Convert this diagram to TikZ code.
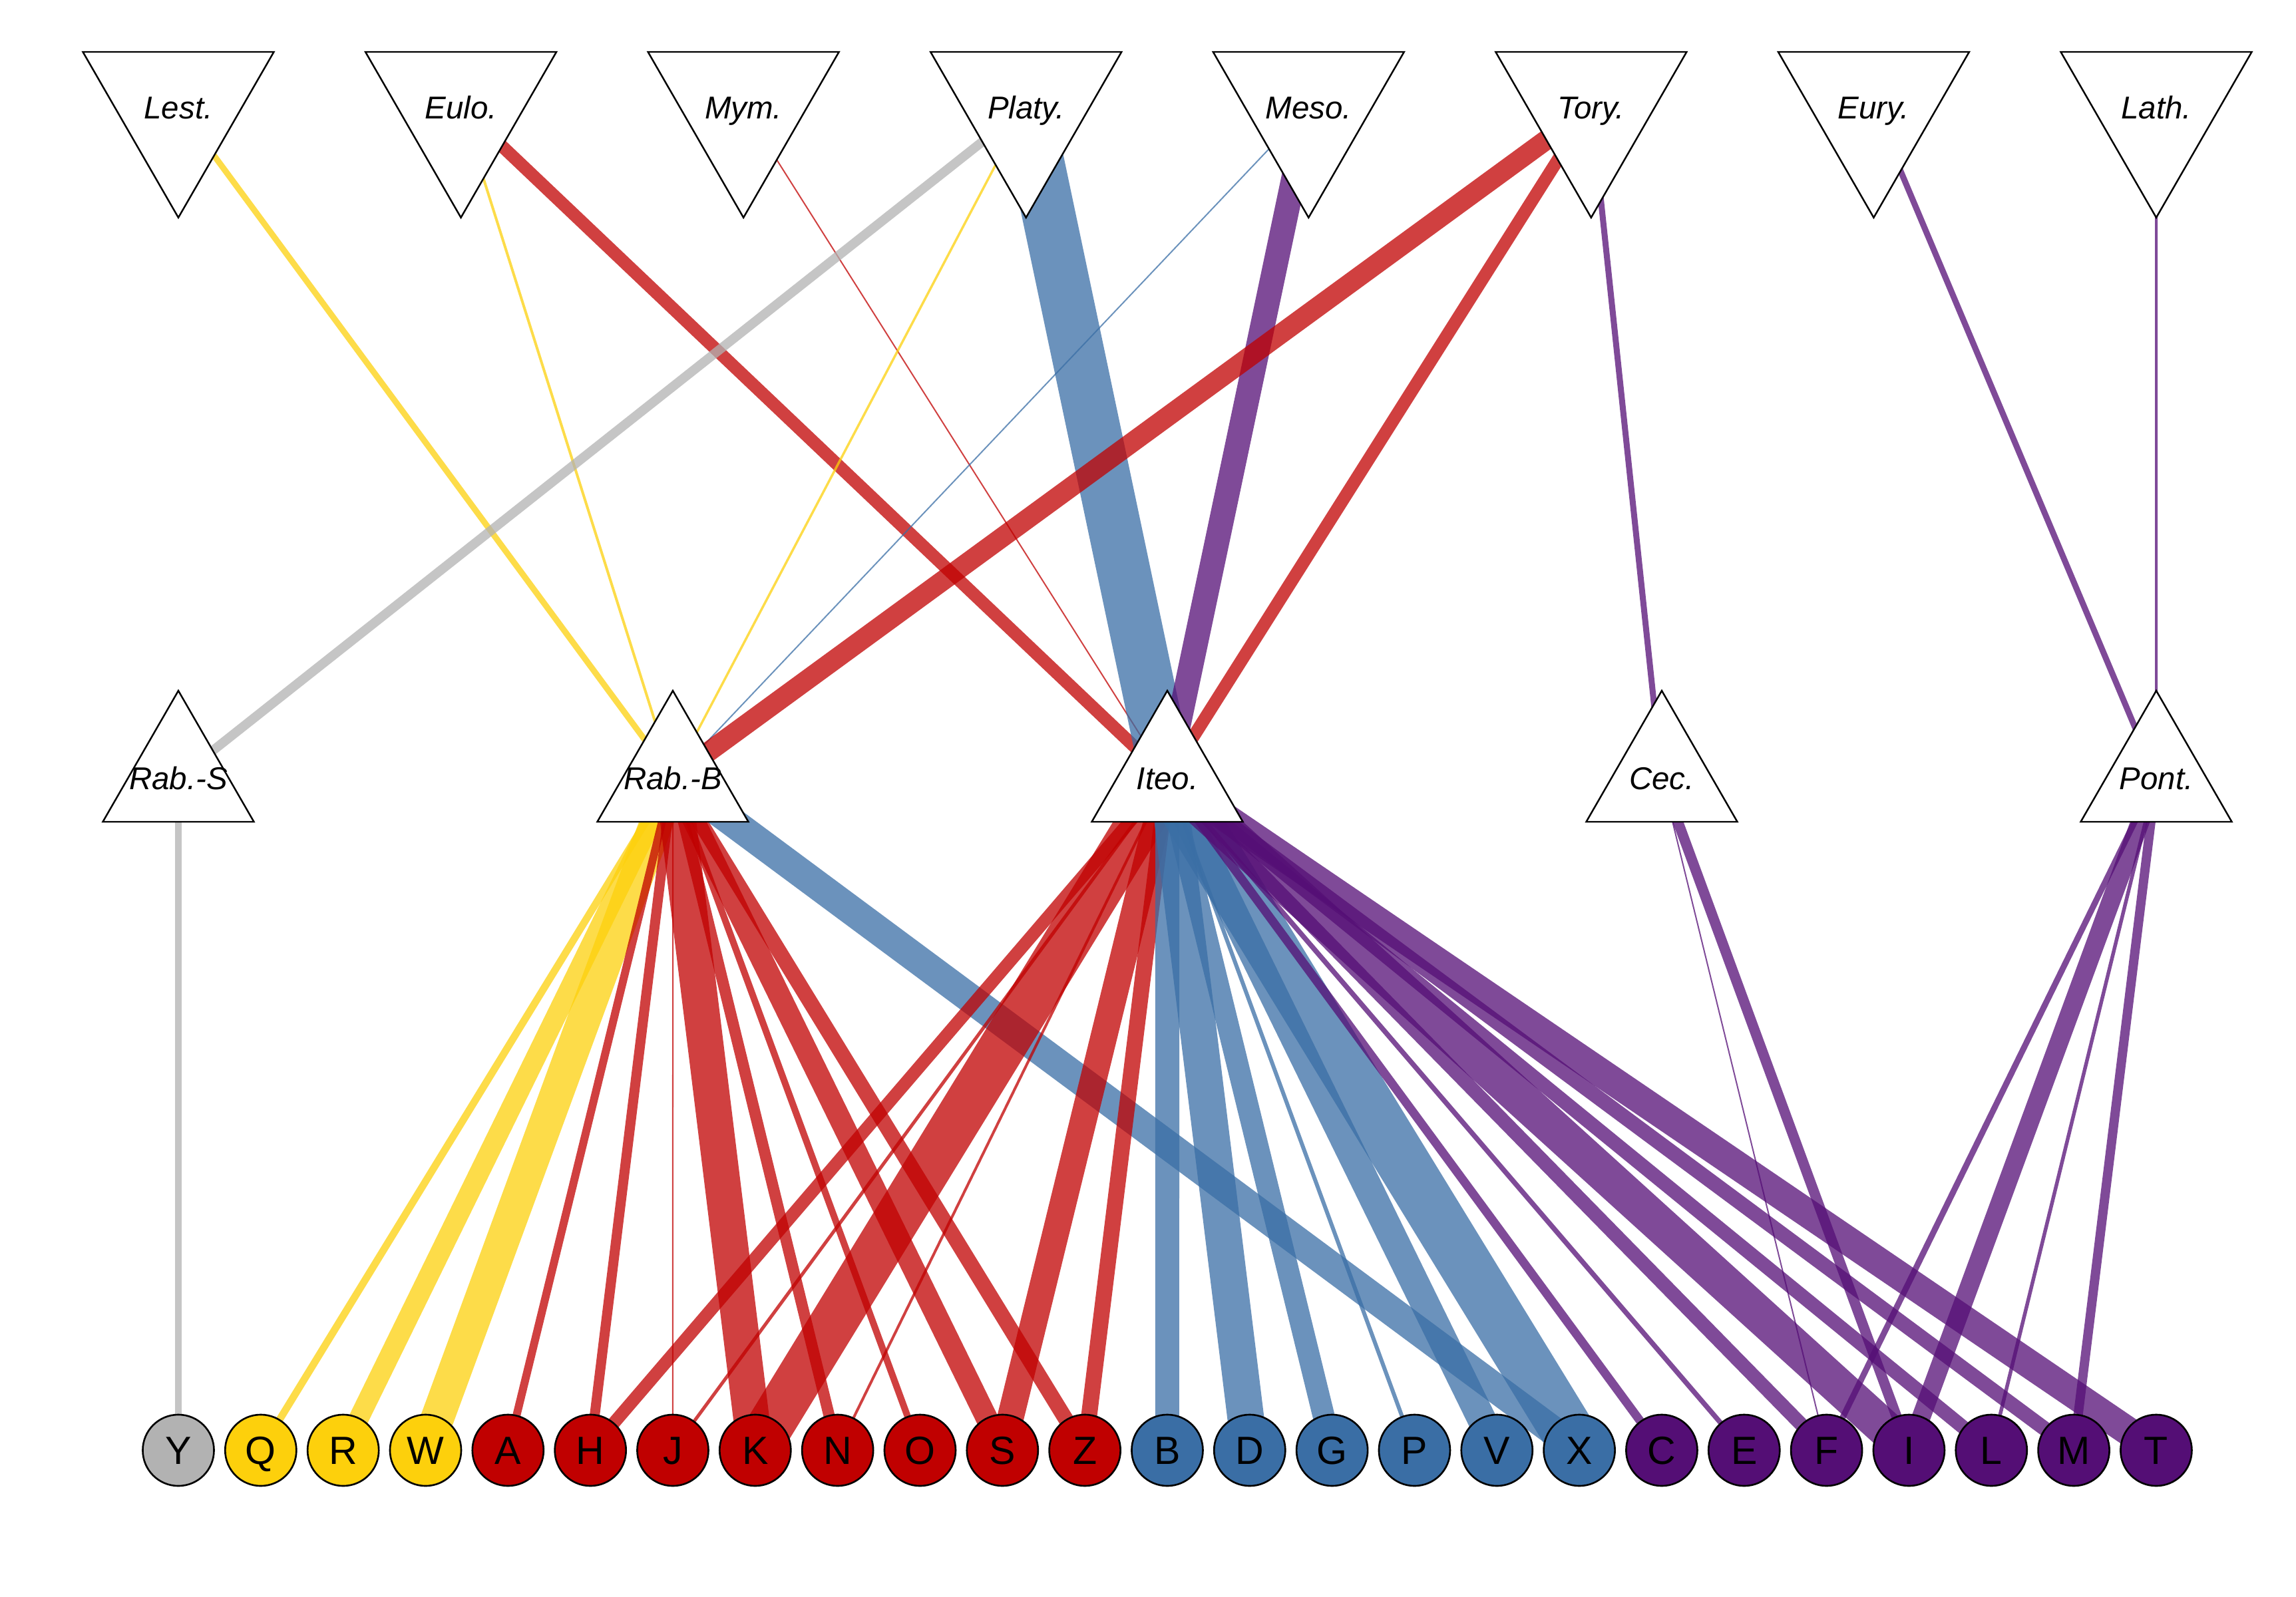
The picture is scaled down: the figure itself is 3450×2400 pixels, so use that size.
\documentclass[tikz,border=0pt]{standalone}
\usepackage{fontspec}
\setmainfont{Liberation Sans}
\pgfdeclarelayer{bg}
\pgfsetlayers{bg,main}
\definecolor{cgray}{RGB}{178,178,178}
\definecolor{cyel}{RGB}{253,208,12}
\definecolor{cred}{RGB}{192,0,0}
\definecolor{cblue}{RGB}{58,110,165}
\definecolor{cpur}{RGB}{84,14,117}
\tikzset{
  ew/.style={line width=#1*0.2845pt},
  eg/.style={draw=cgray, draw opacity=0.75},
  ey/.style={draw=cyel, draw opacity=0.75},
  er/.style={draw=cred, draw opacity=0.75},
  eb/.style={draw=cblue, draw opacity=0.75},
  ep/.style={draw=cpur, draw opacity=0.75},
  tri/.style={draw=black, fill=white, line width=0.7pt, line join=miter},
  lab/.style={inner sep=0pt, text height=0.34cm, text depth=0pt, font=\fontsize{13.5}{15}\selectfont\itshape},
  circ/.style={circle, draw=black, line width=0.75pt, minimum size=1.07cm, inner sep=0pt,
    text height=0.42cm, text depth=0pt, font=\fontsize{16.8}{18}\selectfont}
}
\begin{document}
\begin{tikzpicture}[x=0.01cm, y=-0.01cm]
\useasboundingbox (0,0) rectangle (3450,2400);
% top triangles (pointing down)
\foreach \n/\t [count=\i from 0] in {Lest/Lest., Eulo/Eulo., Mym/Mym., Platy/Platy., Meso/Meso., Tory/Tory., Eury/Eury., Lath/Lath.} {
  \coordinate (\n) at ({268+424.57*\i},161);
  \draw[tri] (\n) ++(-143.5,-83) -- ++(287,0) -- ++(-143.5,249) -- cycle;
  \node[lab] (\n-t) at (\n) {\t};
}
% middle triangles (pointing up)
\foreach \n/\t [count=\i from 0] in {RabS/Rab.-S, RabB/Rab.-B, Iteo/Iteo., Cec/Cec., Pont/Pont.} {
  \coordinate (\n) at ({268+743*\i},1169);
  \draw[tri] (\n) ++(-113.5,66) -- ++(227,0) -- ++(-113.5,-197) -- cycle;
  \node[lab] (\n-t) at (\n) {\t};
}
% bottom circles
\foreach \n/\c [count=\i from 0] in {Y/cgray, Q/cyel, R/cyel, W/cyel, A/cred, H/cred, J/cred, K/cred, N/cred, O/cred, S/cred, Z/cred, B/cblue, D/cblue, G/cblue, P/cblue, V/cblue, X/cblue, C/cpur, E/cpur, F/cpur, I/cpur, L/cpur, M/cpur, T/cpur} {
  \node[circ, fill=\c] (\n) at ({268+123.83*\i},2179.5) {\n};
}
\begin{pgfonlayer}{bg}
% top -> middle
\draw[ey, ew=9] (Lest) -- (RabB);
\draw[ey, ew=4] (Eulo) -- (RabB);
\draw[er, ew=19] (Eulo) -- (Iteo);
\draw[er, ew=2] (Mym) -- (Iteo);
\draw[eg, ew=14] (Platy) -- (RabS);
\draw[ey, ew=3.5] (Platy) -- (RabB);
\draw[eb, ew=80] (Platy) -- (Iteo);
\draw[eb, ew=2] (Meso) -- (RabB);
\draw[ep, ew=37] (Meso) -- (Iteo);
\draw[er, ew=30] (Tory) -- (RabB);
\draw[er, ew=19] (Tory) -- (Iteo);
\draw[ep, ew=9] (Tory) -- (Cec);
\draw[ep, ew=9] (Eury) -- (Pont);
\draw[ep, ew=4] (Lath) -- (Pont);
% middle -> bottom
\draw[eg, ew=10] (RabS) -- (Y.center);
\draw[ey, ew=11] (RabB) -- (Q.center);
\draw[ey, ew=30] (RabB) -- (R.center);
\draw[ey, ew=50] (RabB) -- (W.center);
\draw[er, ew=12] (RabB) -- (A.center);
\draw[er, ew=15] (RabB) -- (H.center);
\draw[er, ew=2] (RabB) -- (J.center);
\draw[er, ew=54] (RabB) -- (K.center);
\draw[er, ew=17] (RabB) -- (N.center);
\draw[er, ew=10] (RabB) -- (O.center);
\draw[er, ew=33] (RabB) -- (S.center);
\draw[er, ew=23] (RabB) -- (Z.center);
\draw[eb, ew=44] (RabB) -- (X.center);
\draw[er, ew=19] (Iteo) -- (H.center);
\draw[er, ew=5] (Iteo) -- (J.center);
\draw[er, ew=70] (Iteo) -- (K.center);
\draw[er, ew=4] (Iteo) -- (N.center);
\draw[er, ew=40] (Iteo) -- (S.center);
\draw[er, ew=24] (Iteo) -- (Z.center);
\draw[eb, ew=36] (Iteo) -- (B.center);
\draw[eb, ew=55] (Iteo) -- (D.center);
\draw[eb, ew=33] (Iteo) -- (G.center);
\draw[eb, ew=6] (Iteo) -- (P.center);
\draw[eb, ew=43] (Iteo) -- (V.center);
\draw[eb, ew=80] (Iteo) -- (X.center);
\draw[ep, ew=13] (Iteo) -- (C.center);
\draw[ep, ew=7.5] (Iteo) -- (E.center);
\draw[ep, ew=21] (Iteo) -- (F.center);
\draw[ep, ew=55] (Iteo) -- (I.center);
\draw[ep, ew=21] (Iteo) -- (L.center);
\draw[ep, ew=22] (Iteo) -- (M.center);
\draw[ep, ew=43] (Iteo) -- (T.center);
\draw[ep, ew=2] (Cec) -- (F.center);
\draw[ep, ew=15.5] (Cec) -- (I.center);
\draw[ep, ew=9] (Pont) -- (F.center);
\draw[ep, ew=28] (Pont) -- (I.center);
\draw[ep, ew=5.5] (Pont) -- (L.center);
\draw[ep, ew=14] (Pont) -- (M.center);
\end{pgfonlayer}
\end{tikzpicture}
\end{document}
